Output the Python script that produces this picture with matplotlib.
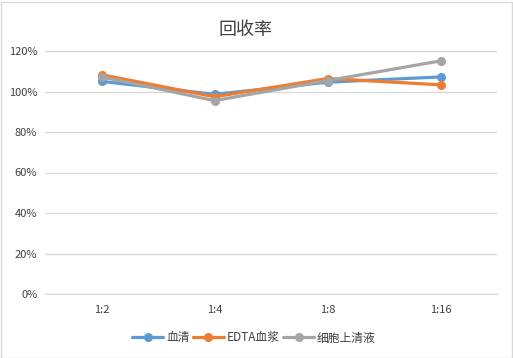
import matplotlib
matplotlib.use("Agg")
import matplotlib.pyplot as plt
from matplotlib.ticker import FuncFormatter
from matplotlib.patches import Rectangle

plt.rcParams['font.family'] = ['Noto Sans CJK SC', 'DejaVu Sans']

categories = ["1:2", "1:4", "1:8", "1:16"]
serum = [105.0, 98.6, 104.6, 107.2]
edta = [108.3, 97.4, 106.4, 103.3]
supernatant = [107.2, 95.5, 105.4, 115.1]
series_names = ["血清", "EDTA血浆", "细胞上清液"]
colors = ["#5B9BD5", "#ED7D31", "#A5A5A5"]
yticks = [0, 20, 40, 60, 80, 100, 120]

fig = plt.figure(figsize=(5.13, 3.58), dpi=100)
ax = fig.add_axes([45/513, 1-294/358, (497-45)/513, (294-51)/358])

x = list(range(len(categories)))
for vals, name, c in zip([serum, edta, supernatant], series_names, colors):
    ax.plot(x, vals, color=c, lw=2.3, marker='o', ms=5.5, label=name,
            solid_capstyle='round')

ax.set_xlim(-0.5, len(categories)-0.5)
ax.set_ylim(0, 120)
ax.set_yticks(yticks)
ax.yaxis.set_major_formatter(FuncFormatter(lambda v, p: f"{int(v)}%"))
ax.set_xticks(x)
ax.set_xticklabels(categories)
ax.grid(axis='y', color='#D9D9D9', lw=1)
ax.set_axisbelow(True)
for s in ['top', 'right', 'left']:
    ax.spines[s].set_visible(False)
ax.spines['bottom'].set_color('#D9D9D9')
ax.tick_params(axis='both', length=0, labelsize=8, colors='#404040', pad=8)
ax.tick_params(axis='y', pad=5.5)

fig.text(246/513, 1-30/358, "回收率", ha='center', va='center', fontsize=13, color='#404040')

leg = fig.legend(loc='center', bbox_to_anchor=(254/513, 1-338/358), ncol=3, frameon=False,
                 fontsize=8.5, handlelength=2.6, columnspacing=0.3, handletextpad=0.25,
                 labelcolor='#404040')

fig.patches.append(Rectangle((0.5/513, 0.5/358), 1-2/513, 1-2/358, transform=fig.transFigure,
                             fill=False, edgecolor='#D9D9D9', lw=1))

fig.savefig("out.png", dpi=100)
